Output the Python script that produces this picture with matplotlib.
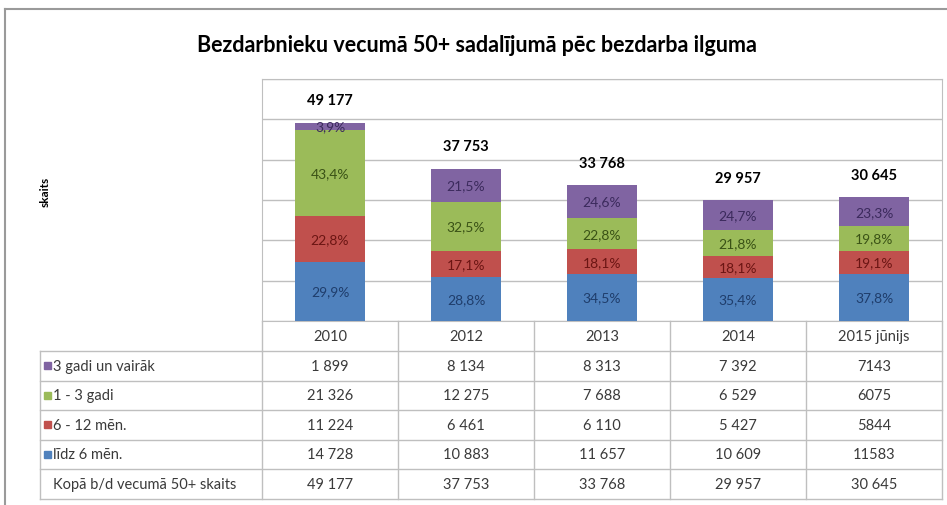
import matplotlib.pyplot as plt
from matplotlib.lines import Line2D
from matplotlib.patches import Rectangle

plt.rcParams['font.family'] = ['Lato', 'DejaVu Sans']

# data
years = ['2010', '2012', '2013', '2014', '2015 jūnijs']
series_names = ['3 gadi un vairāk', '1 - 3 gadi', '6 - 12 mēn.', 'līdz 6 mēn.']
over_3y = [1899, 8134, 8313, 7392, 7143]
y1_3 = [21326, 12275, 7688, 6529, 6075]
m6_12 = [11224, 6461, 6110, 5427, 5844]
under_6m = [14728, 10883, 11657, 10609, 11583]
totals = [49177, 37753, 33768, 29957, 30645]
total_label = 'Kopā b/d vecumā 50+ skaits'
table_text = {
    '3 gadi un vairāk': ['1 899', '8 134', '8 313', '7 392', '7143'],
    '1 - 3 gadi': ['21 326', '12 275', '7 688', '6 529', '6075'],
    '6 - 12 mēn.': ['11 224', '6 461', '6 110', '5 427', '5844'],
    'līdz 6 mēn.': ['14 728', '10 883', '11 657', '10 609', '11583'],
}
total_text = ['49 177', '37 753', '33 768', '29 957', '30 645']

colors = {'līdz 6 mēn.': '#4F81BD', '6 - 12 mēn.': '#C0504D',
          '1 - 3 gadi': '#9BBB59', '3 gadi un vairāk': '#8064A2'}
label_colors = {'līdz 6 mēn.': '#1F3D6B', '6 - 12 mēn.': '#6B1513',
                '1 - 3 gadi': '#3A5216', '3 gadi un vairāk': '#3B2A5C'}

W, H = 947, 506
fig = plt.figure(figsize=(W / 100, H / 100), dpi=100)

# layout in pixels
px_left, px_right, px_top, px_bottom = 262, 942, 80, 322
ax = fig.add_axes([px_left / W, 1 - px_bottom / H,
                   (px_right - px_left) / W, (px_bottom - px_top) / H])

x = list(range(len(years)))
stack = [('līdz 6 mēn.', under_6m), ('6 - 12 mēn.', m6_12),
         ('1 - 3 gadi', y1_3), ('3 gadi un vairāk', over_3y)]
bottom = [0] * len(years)
for name, vals in stack:
    bars = ax.bar(x, vals, 0.52, bottom=bottom, color=colors[name], zorder=3)
    labels = [f"{v / t * 100:.1f}%".replace('.', ',') for v, t in zip(vals, totals)]
    ax.bar_label(bars, labels=labels, label_type='center', fontsize=10,
                 color=label_colors[name], zorder=4)
    bottom = [b + v for b, v in zip(bottom, vals)]

for xi, t, tt in zip(x, totals, total_text):
    ax.annotate(tt, (xi, t), xytext=(0, 11), textcoords='offset points',
                ha='center', va='bottom', fontsize=10.5, fontweight='bold')

ax.set_xlim(-0.5, len(years) - 0.5)
ax.set_ylim(0, 60000)
ax.set_yticks(range(0, 60001, 10000))
ax.set_xticks([])
ax.tick_params(left=False, labelleft=False)
ax.grid(axis='y', color='#BFBFBF', linewidth=1, zorder=0)
for s in ax.spines.values():
    s.set_color('#BFBFBF')

# overlay for table, title and frame, in pixel coordinates
ov = fig.add_axes([0, 0, 1, 1], facecolor='none')
ov.set_xlim(0, W)
ov.set_ylim(H, 0)
ov.axis('off')

line_c = '#BFBFBF'
col_w = (px_right - px_left) / len(years)
row_h = 29.5
label_left = 40
header_bottom = px_bottom + 30
n_rows = len(series_names) + 1
table_bottom = header_bottom + n_rows * row_h
txt_c = '#3A3A3A'
tfs = 10.5

# header row
for i, yr in enumerate(years):
    cx = px_left + (i + 0.5) * col_w
    ov.text(cx, (px_bottom + header_bottom) / 2, yr, ha='center', va='center',
            fontsize=tfs, color=txt_c)
for i in range(len(years) + 1):
    xl = px_left + i * col_w
    ov.add_line(Line2D([xl, xl], [px_bottom, table_bottom], color=line_c, lw=1))
ov.add_line(Line2D([label_left, label_left], [header_bottom, table_bottom], color=line_c, lw=1))
ov.add_line(Line2D([px_left, px_right], [header_bottom, header_bottom], color=line_c, lw=1))

rows = [(n, table_text[n]) for n in series_names] + [(total_label, total_text)]
for r, (name, vals) in enumerate(rows):
    y0 = header_bottom + r * row_h
    yc = y0 + row_h / 2
    ov.add_line(Line2D([label_left, px_right], [y0 + row_h, y0 + row_h], color=line_c, lw=1))
    if r == 0:
        ov.add_line(Line2D([label_left, px_left], [y0, y0], color=line_c, lw=1))
    if name in colors:
        ov.add_patch(Rectangle((44, yc - 3.5), 7, 7, color=colors[name]))
        ov.text(53, yc, name, ha='left', va='center', fontsize=tfs, color=txt_c)
    else:
        ov.text(53, yc, name, ha='left', va='center', fontsize=tfs, color=txt_c)
    for i, v in enumerate(vals):
        ov.text(px_left + (i + 0.5) * col_w, yc, v, ha='center', va='center',
                fontsize=tfs, color=txt_c)

# title and axis label
ov.text(477, 45, 'Bezdarbnieku vecumā 50+ sadalījumā pēc bezdarba ilguma',
        ha='center', va='center', fontsize=15.5, fontweight='bold')
ov.text(45, 192, 'skaits', rotation=90, ha='center', va='center',
        fontsize=8.5, fontweight='bold')

# chart frame
ov.add_line(Line2D([5, W], [10, 10], color='#9A9A9A', lw=1.5))
ov.add_line(Line2D([5, 5], [10, H], color='#9A9A9A', lw=1.5))

fig.savefig('out.png', dpi=100)
